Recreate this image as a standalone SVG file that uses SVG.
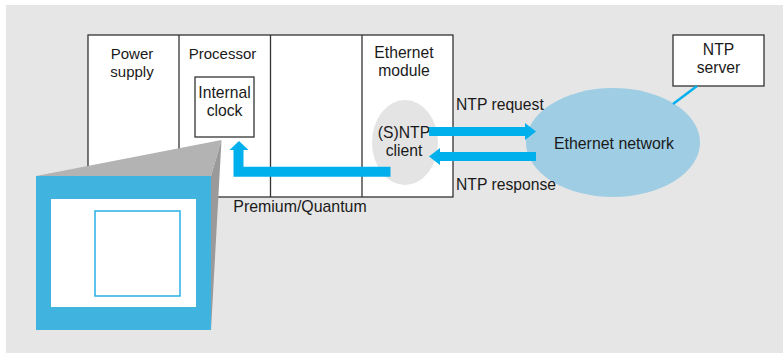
<svg xmlns="http://www.w3.org/2000/svg" width="783" height="353" viewBox="0 0 783 353">
<style>
text{font-family:"Liberation Sans",Arial,sans-serif;font-size:15.7px;fill:#1a1a1a}
.m{text-anchor:middle}
.box{fill:#fff;stroke:#333;stroke-width:1.3}
.arr{fill:#00b0ec}
</style>
<rect x="0" y="0" width="783" height="353" fill="#fff"/>
<rect x="6" y="5" width="777" height="348" fill="#e6e6e6"/>
<g id="rack">
<rect class="box" x="88" y="35" width="365" height="162"/>
<line x1="179" y1="35" x2="179" y2="197" stroke="#333" stroke-width="1.3"/>
<line x1="270.5" y1="35" x2="270.5" y2="197" stroke="#333" stroke-width="1.3"/>
<line x1="362" y1="35" x2="362" y2="197" stroke="#333" stroke-width="1.3"/>
<text class="m" x="300" y="212" style="font-size:15.9px">Premium/Quantum</text>
</g>
<g id="power-supply">
<text class="m" x="132" y="59" style="font-size:15px">Power</text>
<text class="m" x="132" y="77" style="font-size:15px">supply</text>
</g>
<g id="processor">
<text class="m" x="222.5" y="59" style="font-size:15px">Processor</text>
</g>
<g id="internal-clock">
<rect class="box" x="195" y="77" width="59" height="60"/>
<text class="m" x="224.5" y="98">Internal</text>
<text class="m" x="224.5" y="116">clock</text>
</g>
<g id="ethernet-module">
<text class="m" x="404" y="58">Ethernet</text>
<text class="m" x="404" y="76">module</text>
</g>
<g id="sntp-client">
<ellipse cx="405" cy="142.5" rx="33" ry="42.5" fill="#e4e4e4"/>
<text class="m" x="404" y="138">(S)NTP</text>
<text class="m" x="404" y="156">client</text>
</g>
<g id="ethernet-network">
<ellipse cx="613" cy="142.5" rx="87" ry="54.5" fill="#9ecde4"/>
<text class="m" x="614" y="149" style="font-size:15.9px">Ethernet network</text>
</g>
<g id="ntp-server">
<rect x="673" y="35" width="91" height="51" fill="#fff" stroke="#333" stroke-width="1.3"/>
<text class="m" x="718.5" y="55">NTP</text>
<text class="m" x="718.5" y="73">server</text>
</g>
<g id="zoom-callout">
<polygon points="36,176 221.5,140 211,176" fill="#b3b3b3"/>
<polygon points="211,176 221.5,140 211,330" fill="#9a9a9a"/>
<rect x="36" y="176" width="175" height="154" fill="#40b4df"/>
<rect x="51" y="199" width="145" height="108" fill="#fff"/>
<rect x="95" y="211" width="85" height="85" fill="#fff" stroke="#29b0e6" stroke-width="1.5"/>
</g>
<g id="connectors">
<line x1="697" y1="86" x2="673" y2="104" stroke="#00b0ec" stroke-width="2.5"/>
<polygon class="arr" points="429,127 525,127 525,123 536,131.5 525,140 525,136 429,136"/>
<polygon class="arr" points="536,152 440,152 440,148 429,156.5 440,165 440,161 536,161"/>
<polygon class="arr" points="390.5,166.7 390.5,176.7 233.5,176.7 233.5,150 229.5,150 239,141 248.5,150 243.5,150 243.5,166.7"/>
<text x="456" y="110">NTP request</text>
<text x="456" y="190">NTP response</text>
</g>
</svg>
